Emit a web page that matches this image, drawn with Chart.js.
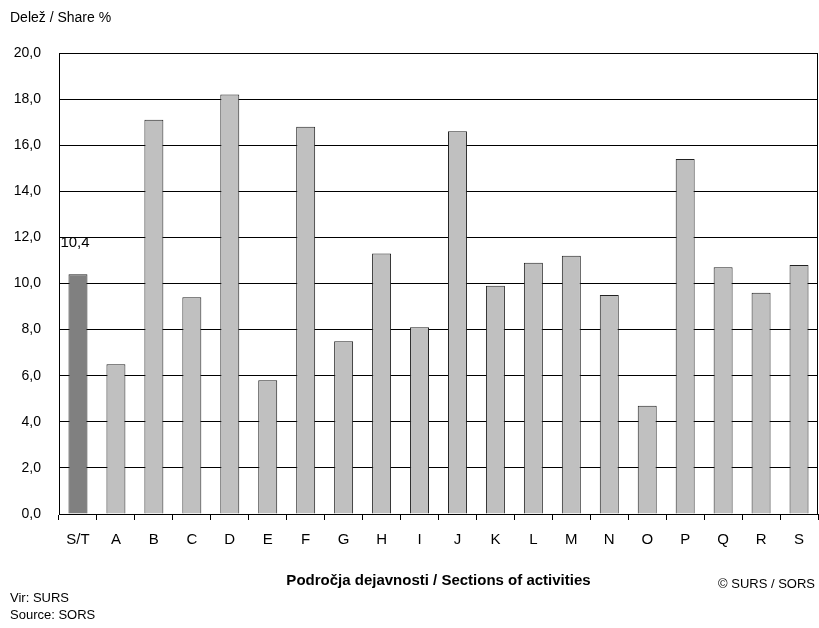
<!DOCTYPE html>
<html>
<head>
<meta charset="utf-8">
<script src="https://cdn.jsdelivr.net/npm/chart.js@4"></script>
<style>
  html, body { margin: 0; padding: 0; background: #fff; }
  #wrap { position: relative; width: 819px; height: 628px; }
</style>
</head>
<body>
<div id="wrap"><canvas id="grafikon" width="819" height="628"></canvas></div>
<script>
// Podatki
const kategorije = ['S/T', 'A', 'B', 'C', 'D', 'E', 'F', 'G', 'H', 'I', 'J', 'K', 'L', 'M', 'N', 'O', 'P', 'Q', 'R', 'S'];
const delezi = [10.4, 6.5, 17.1, 9.4, 18.2, 5.8, 16.8, 7.5, 11.3, 8.1, 16.6, 9.9, 10.9, 11.2, 9.5, 4.7, 15.4, 10.7, 9.6, 10.8];
const yTicks = [0, 2, 4, 6, 8, 10, 12, 14, 16, 18, 20];

const FONT = 'Liberation Sans, Arial, sans-serif';
const fmt = v => v.toFixed(1).replace('.', ',');

// Barve: prvi stolpec temnejši
const barve = kategorije.map((k, i) => i === 0 ? '#808080' : '#c0c0c0');

// Dodatna besedila in okvir
const besedila = {
  id: 'besedila',
  afterDraw(chart) {
    const ctx = chart.ctx;
    const a = chart.chartArea;
    ctx.save();
    // desni rob
    ctx.strokeStyle = '#000';
    ctx.lineWidth = 1;
    ctx.beginPath();
    ctx.moveTo(Math.round(a.right) - 0.5, a.top);
    ctx.lineTo(Math.round(a.right) - 0.5, a.bottom);
    ctx.stroke();

    ctx.fillStyle = '#000';
    ctx.textBaseline = 'alphabetic';
    ctx.textAlign = 'left';
    ctx.font = '14px ' + FONT;
    ctx.fillText('Delež / Share %', 10, 22);

    // oznaka za S/T
    const bar = chart.getDatasetMeta(0).data[0];
    ctx.font = '15px ' + FONT;
    ctx.textAlign = 'center';
    ctx.fillText(fmt(delezi[0]), bar.x - 3, bar.y - 27);

    ctx.textAlign = 'left';
    ctx.font = '13px ' + FONT;
    ctx.fillText('Vir: SURS', 10, 602);
    ctx.fillText('Source: SORS', 10, 619);

    ctx.textAlign = 'right';
    ctx.fillText('© SURS / SORS', 815, 588);
    ctx.restore();
  }
};

new Chart(document.getElementById('grafikon'), {
  type: 'bar',
  data: {
    labels: kategorije,
    datasets: [{
      data: delezi,
      backgroundColor: barve,
      borderColor: '#222',
      borderWidth: 1,
      categoryPercentage: 1,
      barPercentage: 0.5
    }]
  },
  options: {
    responsive: false,
    animation: false,
    layout: { padding: { top: 53, right: 1, bottom: 38, left: 0 } },
    plugins: {
      legend: { display: false },
      tooltip: { enabled: false }
    },
    scales: {
      x: {
        grid: {
          offset: true,
          drawOnChartArea: false,
          color: '#000',
          tickLength: 6
        },
        border: { color: '#000' },
        ticks: {
          color: '#000',
          font: { family: FONT, size: 15 },
          padding: 11,
          maxRotation: 0,
          autoSkip: false
        },
        title: {
          display: true,
          text: 'Področja dejavnosti / Sections of activities',
          color: '#000',
          font: { family: FONT, size: 15, weight: 'bold' },
          padding: { top: 0, bottom: 0 }
        },
        afterFit(scale) { scale.height = 76; }
      },
      y: {
        min: 0,
        max: 20,
        afterBuildTicks(scale) { scale.ticks = yTicks.map(v => ({ value: v })); },
        grid: { color: '#000', drawTicks: false },
        border: { color: '#000' },
        ticks: {
          color: '#000',
          font: { family: FONT, size: 14 },
          padding: 18,
          callback: v => fmt(v)
        },
        afterFit(scale) { scale.width = 59; }
      }
    }
  },
  plugins: [besedila]
});
</script>
</body>
</html>
